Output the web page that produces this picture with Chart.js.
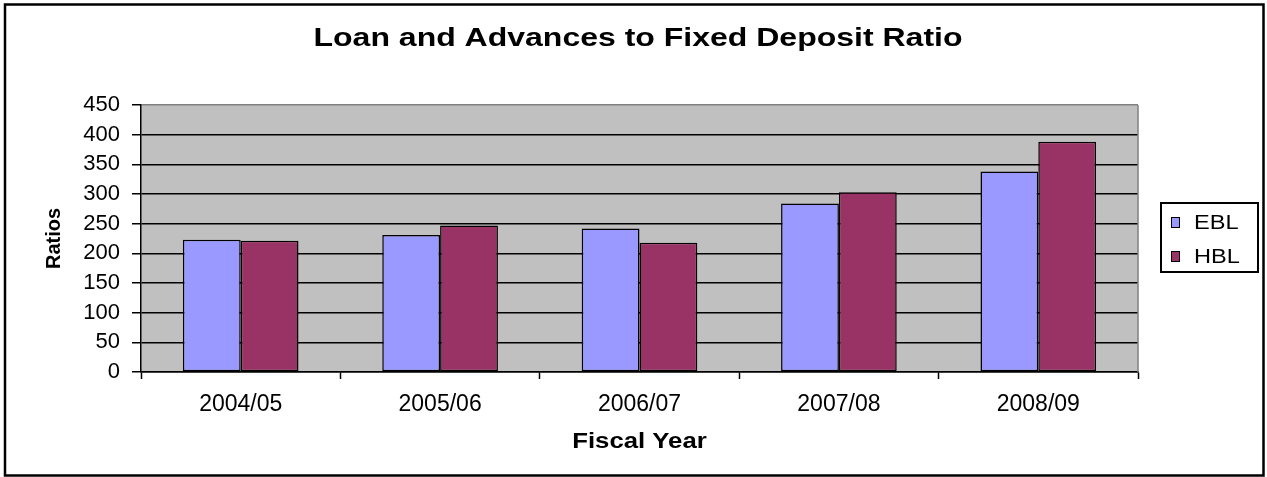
<!DOCTYPE html>
<html>
<head>
<meta charset="utf-8">
<title>Loan and Advances to Fixed Deposit Ratio</title>
<script src="https://cdn.jsdelivr.net/npm/chart.js@4.4.1/dist/chart.umd.min.js"></script>
<style>
  html, body { margin: 0; padding: 0; background: #fff; }
  #wrap { width: 1267px; height: 477px; }
</style>
</head>
<body>
<div id="wrap"><canvas id="ratioChart" width="1267" height="477"></canvas></div>
<script>
// data
const fiscalYears = ['2004/05', '2005/06', '2006/07', '2007/08', '2008/09'];
const eblRatios = [223, 231, 242, 284, 338];
const hblRatios = [221, 247, 218, 303, 388];
const seriesNames = ['EBL', 'HBL'];
const yMax = 450;
const yStep = 50;
const chartTitle = 'Loan and Advances to Fixed Deposit Ratio';
const xAxisTitle = 'Fiscal Year';

const FONT = 'Arial, "Liberation Sans", sans-serif';

// the reference text is a bit stretched sideways, so draw it scaled
function wideText(ctx, text, x, y, sx) {
  ctx.save();
  ctx.translate(x, y);
  ctx.scale(sx, 1);
  ctx.fillText(text, 0, 0);
  ctx.restore();
}

// frame, plot background, titles and boxed legend (excel look)
const excelFrame = {
  id: 'excelFrame',
  beforeDraw(chart) {
    const { ctx, chartArea: a } = chart;
    ctx.save();
    ctx.fillStyle = '#c0c0c0';
    ctx.fillRect(a.left, a.top, a.right - a.left, a.bottom - a.top);
    ctx.restore();
  },
  afterDraw(chart) {
    const { ctx, chartArea: a } = chart;
    ctx.save();

    // grey plot edge on the right
    ctx.strokeStyle = '#808080';
    ctx.lineWidth = 1.5;
    ctx.beginPath();
    ctx.moveTo(a.right, a.top);
    ctx.lineTo(a.right, a.bottom);
    ctx.stroke();

    // outer border
    ctx.strokeStyle = '#000';
    ctx.lineWidth = 2.5;
    ctx.strokeRect(5, 4.5, 1258.5, 471);

    // chart title
    ctx.fillStyle = '#000';
    ctx.font = 'bold 25px ' + FONT;
    ctx.textAlign = 'center';
    ctx.textBaseline = 'alphabetic';
    wideText(ctx, chartTitle, 638, 46, 1.28);

    // x axis title
    ctx.font = 'bold 22px ' + FONT;
    ctx.textBaseline = 'middle';
    wideText(ctx, xAxisTitle, (a.left + a.right) / 2, 442, 1.17);

    // legend
    ctx.lineWidth = 2;
    ctx.strokeRect(1161, 203, 97, 69);
    ctx.font = '20px ' + FONT;
    ctx.textAlign = 'left';
    chart.data.datasets.forEach((ds, i) => {
      const cy = 222 + i * 34;
      ctx.fillStyle = ds.backgroundColor;
      ctx.fillRect(1171, cy - 5, 8, 10);
      ctx.lineWidth = 1;
      ctx.strokeStyle = '#000';
      ctx.strokeRect(1171.5, cy - 4.5, 8, 10);
      ctx.fillStyle = '#000';
      wideText(ctx, ds.label, 1194, cy + 1, 1.18);
    });
    ctx.restore();
  }
};

const ctx = document.getElementById('ratioChart').getContext('2d');
new Chart(ctx, {
  type: 'bar',
  data: {
    labels: fiscalYears,
    datasets: [
      {
        label: seriesNames[0],
        data: eblRatios,
        backgroundColor: '#9999ff',
        borderColor: '#000',
        borderWidth: 1.5,
        borderSkipped: false
      },
      {
        label: seriesNames[1],
        data: hblRatios,
        backgroundColor: '#993366',
        borderColor: '#000',
        borderWidth: 1.5,
        borderSkipped: false
      }
    ]
  },
  options: {
    responsive: false,
    animation: false,
    devicePixelRatio: 1,
    categoryPercentage: 0.58,
    barPercentage: 1.0,
    layout: { padding: { top: 105, right: 129, left: 0, bottom: 0 } },
    plugins: {
      legend: { display: false },
      title: { display: false },
      tooltip: { enabled: false }
    },
    scales: {
      x: {
        grid: {
          drawOnChartArea: false,
          tickLength: 7,
          tickColor: '#000',
          tickWidth: 1.5
        },
        border: { color: '#000', width: 1.5 },
        ticks: {
          color: '#000',
          font: { family: FONT, size: 23 },
          padding: 12,
          maxRotation: 0
        },
        afterFit(scale) { scale.height = 105; }
      },
      y: {
        min: 0,
        max: yMax,
        grid: {
          color: c => (c.tick && c.tick.value === yMax ? '#808080' : '#000'),
          lineWidth: 1.5,
          tickLength: 9,
          tickColor: '#000',
          tickWidth: 1.5
        },
        border: { color: '#000', width: 1.5 },
        ticks: {
          stepSize: yStep,
          color: '#000',
          font: { family: FONT, size: 22 },
          padding: 12
        },
        title: {
          display: true,
          text: 'Ratios',
          color: '#000',
          font: { family: FONT, size: 20, weight: 'bold' },
          padding: { top: 42, bottom: 0 }
        },
        afterFit(scale) { scale.width = 141; }
      }
    }
  },
  plugins: [excelFrame]
});
</script>
</body>
</html>
